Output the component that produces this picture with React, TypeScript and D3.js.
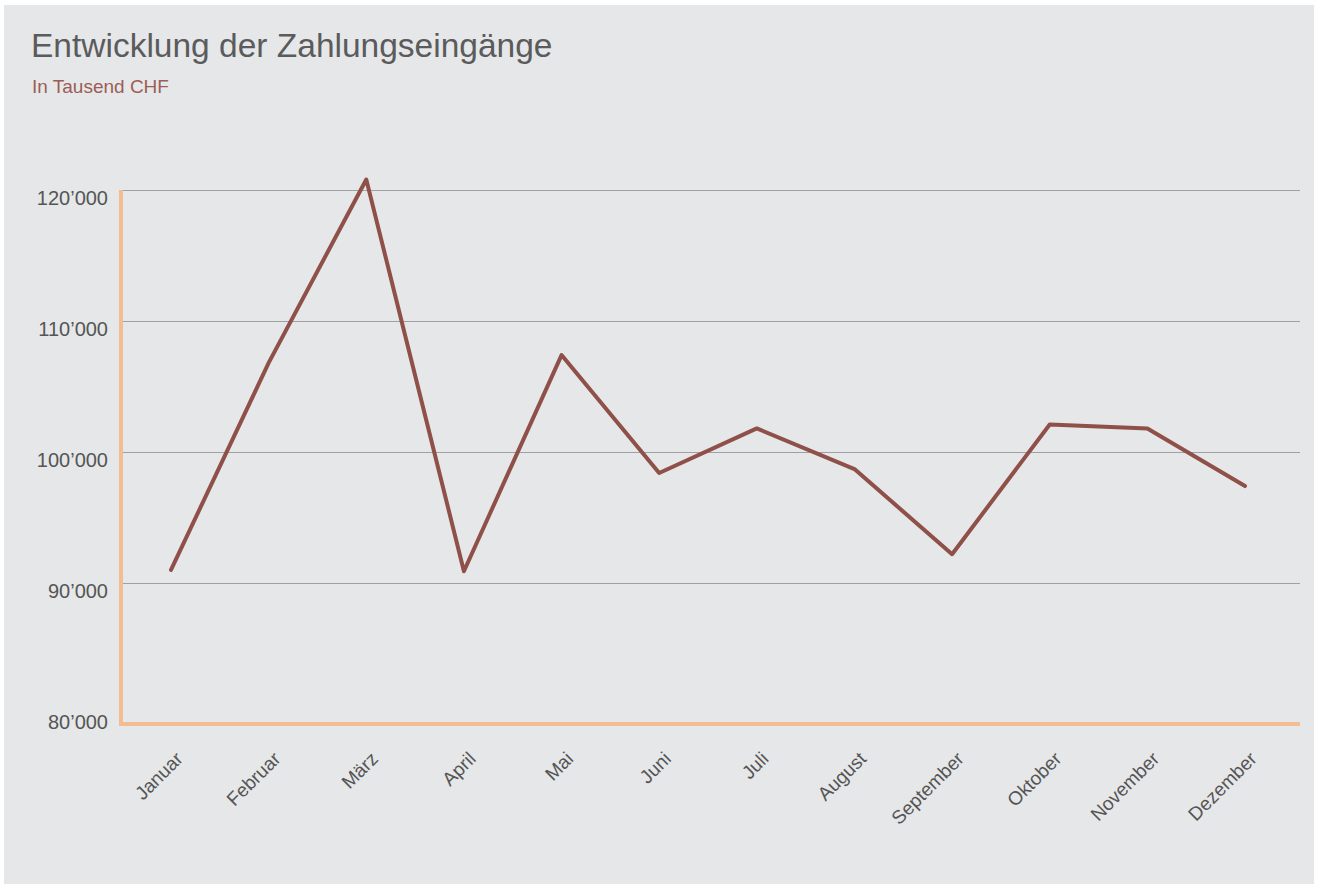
import React from "react";
import * as d3 from "d3";

const months = ["Januar","Februar","März","April","Mai","Juni","Juli","August","September","Oktober","November","Dezember"];
const values = [91000,106800,120800,90900,107400,98400,101800,98700,92200,102100,101800,97400];
const yTicks = [80000,90000,100000,110000,120000];

const W = 1318, H = 886;
const FONT = "'Liberation Sans', Arial, Helvetica, sans-serif";

export default function App() {
  const x = d3.scalePoint<string>().domain(months).range([171, 1245]);
  const y = d3.scaleLinear().domain([80000, 120000]).range([714, 190]);
  const line = d3.line<number>().x((_, i) => x(months[i]) as number).y(d => y(d));
  const fmt = (v: number) => d3.format(",")(v).replace(/,/g, "\u2019");
  const left = 121, right = 1300, axisY = 724;
  return (
    <svg width={W} height={H} style={{ position: "absolute", left: 0, top: 0 }} fontFamily={FONT}>
      <rect x={0} y={0} width={W} height={H} fill="#ffffff" />
      <rect x={4} y={5} width={1310} height={879} fill="#e6e7e9" />
      <text x={31} y={57} fontSize={33.5} fill="#5b5b5b" style={{ fontWeight: 300 }}>Entwicklung der Zahlungseingänge</text>
      <text x={32} y={93} fontSize={19} fill="#9c5d55">In Tausend CHF</text>
      {yTicks.filter(t => t > 80000).map(t => (
        <line key={t} x1={left} x2={right} y1={Math.round(y(t)) + 0.5} y2={Math.round(y(t)) + 0.5} stroke="#a0a0a2" strokeWidth={1} />
      ))}
      {yTicks.map(t => (
        <text key={t} x={108} y={y(t) + 14.5} textAnchor="end" fontSize={20} fill="#555">{fmt(t)}</text>
      ))}
      <line x1={left} x2={left} y1={190} y2={axisY + 2} stroke="#f3bd94" strokeWidth={4} />
      <line x1={left - 2} x2={right} y1={axisY} y2={axisY} stroke="#f3bd94" strokeWidth={4} />
      <path d={line(values) || ""} fill="none" stroke="#8e5048" strokeWidth={4} strokeLinejoin="round" strokeLinecap="round" />
      {months.map(m => (
        <text key={m} transform={`translate(${(x(m) as number) + 13},${760}) rotate(-45)`} textAnchor="end" fontSize={19} fill="#555">{m}</text>
      ))}
    </svg>
  );
}
